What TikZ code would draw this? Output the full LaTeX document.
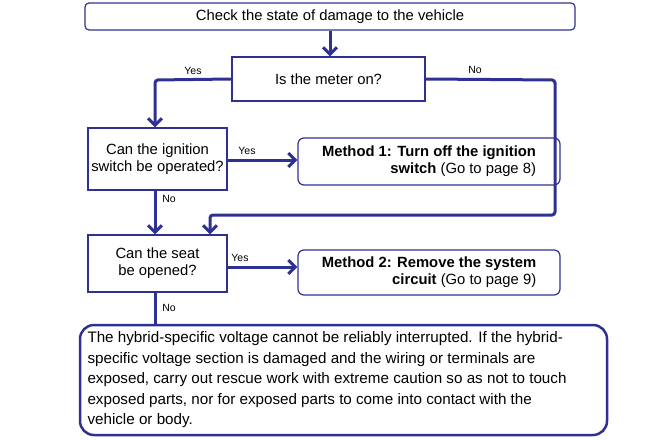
\documentclass[tikz,border=0pt]{standalone}
\usepackage{fontspec}
\setmainfont{Liberation Sans}
\usetikzlibrary{arrows.meta}
\definecolor{navy}{RGB}{46,49,146}

\begin{document}
\begin{tikzpicture}[%
      x=1pt, y=-1pt,
      box/.style={draw=navy, line width=1.2pt, inner sep=2pt, font=\fontsize{14.8}{17}\selectfont, align=center},
      rbox/.style={box, rounded corners=6pt, align=right},
      flow/.style={draw=navy, line width=3pt, -{Straight Barb[length=7pt,width=14pt,line width=3pt]}},
      lbl/.style={font=\fontsize{10.5}{12}\selectfont, inner sep=1pt},
      ]
      \useasboundingbox (0,0) rectangle (660,439);

      % boxes
      \node[box, rounded corners=4pt, minimum width=490, minimum height=27] (check) at (330,16.5) {Check the state of damage to the vehicle};
      \node[box, minimum width=193, minimum height=44] (meter) at (328.5,79) {Is the meter on?};
      \node[box, minimum width=139, minimum height=62] (ign) at (157.5,159) {Can the ignition\\switch be operated?};
      \node[box, minimum width=139, minimum height=57] (seat) at (157.5,263.5) {Can the seat\\be opened?};
      \node[rbox, minimum width=262, minimum height=47] (meth1) at (429,161.5) {\textbf{Method 1: Turn off the ignition}\\\textbf{switch} (Go to page 8)};
      \node[rbox, minimum width=262, minimum height=45] (meth2) at (429,272.5) {\textbf{Method 2: Remove the system}\\\textbf{circuit} (Go to page 9)};
      \node[box, line width=2.5pt, rounded corners=14pt, minimum width=527, minimum height=110, align=flush left, text width=512, font=\fontsize{15.2}{20.5}\selectfont] (warn) at (343.5,380)
        {The hybrid-specific voltage cannot be reliably interrupted. If the hybrid-\\specific voltage section is damaged and the wiring or terminals are\\exposed, carry out rescue work with extreme caution so as not to touch\\exposed parts, nor for exposed parts to come into contact with the\\vehicle or body.};

      % connectors
      \coordinate (yesA) at (155,80);
      \coordinate (noA) at (555,80);
      \coordinate (noB) at (555,215);
      \coordinate (noC) at (210,215);
      \draw[flow] (check.south -| 330,0) -- (meter.north -| 330,0);
      \draw[flow, rounded corners=3pt] (meter.west) -- (yesA) -- (ign.north -| yesA);
      \draw[flow, rounded corners=3pt] (meter.east) -- (noA) -- (noB) -- (noC) -- (seat.north -| noC);
      \draw[flow] (ign.east |- 0,160) -- (meth1.west |- 0,160);
      \draw[flow] (ign.south -| yesA) -- (seat.north -| yesA);
      \draw[flow] (seat.east |- 0,267) -- (meth2.west |- 0,267);
      \draw[navy, line width=3pt] (seat.south -| yesA) -- (warn.north -| yesA);

      % labels
      \node[lbl] at (193,71) {Yes};
      \node[lbl] at (475,70) {No};
      \node[lbl] at (247,151) {Yes};
      \node[lbl] at (169,199) {No};
      \node[lbl] at (240,258) {Yes};
      \node[lbl] at (169,308) {No};
      \end{tikzpicture}
\end{document}
